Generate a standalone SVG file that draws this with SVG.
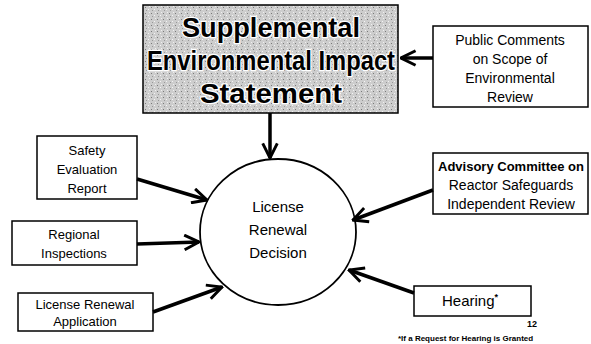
<svg xmlns="http://www.w3.org/2000/svg" width="591" height="344" viewBox="0 0 591 344">
<defs>
<pattern id="speck" width="6" height="6" patternUnits="userSpaceOnUse">
<rect width="6" height="6" fill="#cdcdcd"/>
<rect x="1" y="1" width="1" height="1" fill="#7a7a7a"/>
<rect x="4" y="3" width="1" height="1" fill="#f4f4f4"/>
<rect x="2" y="4" width="1" height="1" fill="#999"/>
<rect x="5" y="0" width="1" height="1" fill="#f0f0f0"/>
</pattern>
<marker id="arr" viewBox="0 0 12 12" refX="11" refY="6" markerWidth="5" markerHeight="5" orient="auto" markerUnits="strokeWidth">
<path d="M1,1 L11,6 L1,11" fill="none" stroke="#000" stroke-width="2"/>
</marker>
</defs>
<style>
.box{fill:#fff;stroke:#000;stroke-width:1.5}
.t{font-family:"Liberation Sans",Arial,sans-serif;font-size:14px;fill:#000;text-anchor:middle}
.big{font-family:"Liberation Sans",Arial,sans-serif;font-size:27px;font-weight:bold;fill:#000;text-anchor:middle;stroke:#fff;stroke-width:2.5;paint-order:stroke}
.c{stroke:#000;stroke-width:3.5;fill:none;marker-end:url(#arr)}
</style>
<rect width="591" height="344" fill="#fff"/>
<g id="seis">
<rect x="143" y="5" width="255" height="108" fill="url(#speck)" stroke="#000" stroke-width="1.5"/>
<text class="big" x="271" y="37" textLength="178" lengthAdjust="spacingAndGlyphs">Supplemental</text>
<text class="big" x="271" y="70" textLength="248" lengthAdjust="spacingAndGlyphs">Environmental Impact</text>
<text class="big" x="271" y="103" textLength="142" lengthAdjust="spacingAndGlyphs">Statement</text>
</g>
<g id="public">
<rect class="box" x="433" y="26" width="155" height="81"/>
<text class="t" x="510" y="45">Public Comments</text>
<text class="t" x="510" y="64">on Scope of</text>
<text class="t" x="510" y="83">Environmental</text>
<text class="t" x="510" y="102">Review</text>
</g>
<g id="decision">
<ellipse cx="278" cy="232" rx="78" ry="73" fill="#fff" stroke="#000" stroke-width="1.8"/>
<text class="t" x="278" y="212" style="font-size:15px">License</text>
<text class="t" x="278" y="235" style="font-size:15px">Renewal</text>
<text class="t" x="278" y="258" style="font-size:15px">Decision</text>
</g>
<g id="safety">
<rect class="box" x="37" y="136" width="100" height="63"/>
<text class="t" x="87" y="155" style="font-size:13px">Safety</text>
<text class="t" x="87" y="174" style="font-size:13px">Evaluation</text>
<text class="t" x="87" y="193" style="font-size:13px">Report</text>
</g>
<g id="regional">
<rect class="box" x="12" y="221" width="125" height="44"/>
<text class="t" x="74" y="239" style="font-size:13px">Regional</text>
<text class="t" x="74" y="258" style="font-size:13px">Inspections</text>
</g>
<g id="application">
<rect class="box" x="18" y="293" width="135" height="38"/>
<text class="t" x="85" y="309" style="font-size:13px">License Renewal</text>
<text class="t" x="85" y="326" style="font-size:13px">Application</text>
</g>
<g id="acrs">
<rect class="box" x="433" y="153" width="155" height="61"/>
<text class="t" x="511" y="171" style="font-weight:bold;font-size:13px">Advisory Committee on</text>
<text class="t" x="511" y="190">Reactor Safeguards</text>
<text class="t" x="511" y="209">Independent Review</text>
</g>
<g id="hearing">
<rect class="box" x="414" y="286" width="117" height="30"/>
<text class="t" x="470" y="306" style="font-size:15px">Hearing<tspan dy="-6" style="font-size:9px;font-weight:bold">*</tspan></text>
</g>
<g id="notes">
<text x="527" y="327" style="font-family:'Liberation Sans',Arial,sans-serif;font-size:9px;font-weight:bold">12</text>
<text x="398" y="341" style="font-family:'Liberation Sans',Arial,sans-serif;font-size:8px;font-weight:bold">*If a Request for Hearing is Granted</text>
</g>
<g id="connectors">
<line class="c" x1="433" y1="58" x2="401" y2="58"/>
<line class="c" x1="270" y1="113" x2="270" y2="158"/>
<line class="c" x1="137" y1="179" x2="207" y2="200"/>
<line class="c" x1="137" y1="244" x2="199" y2="242"/>
<line class="c" x1="153" y1="312" x2="222" y2="287"/>
<line class="c" x1="433" y1="190" x2="353" y2="220"/>
<line class="c" x1="414" y1="293" x2="349" y2="270"/>
</g>
</svg>
